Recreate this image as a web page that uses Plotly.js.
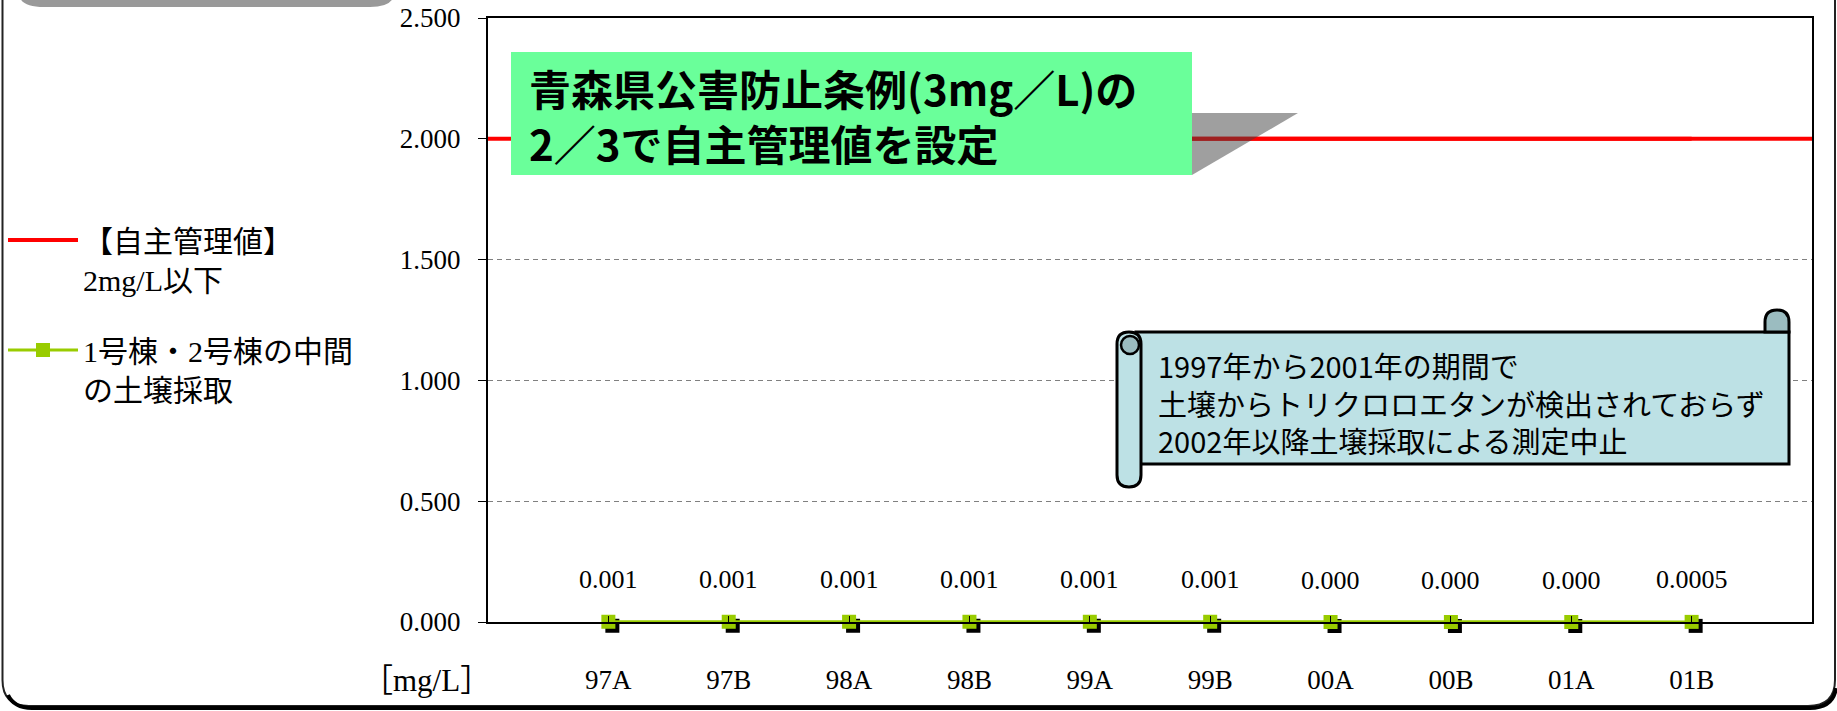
<!DOCTYPE html>
<html>
<head>
<meta charset="utf-8">
<script src="https://cdn.plot.ly/plotly-3.0.1.min.js"></script>
<style>
html,body{margin:0;padding:0;background:#fff;}
#chart{width:1837px;height:711px;}
</style>
</head>
<body>
<div id="chart"></div>
<script>
// ---- data ----
const categories = ['97A','97B','98A','98B','99A','99B','00A','00B','01A','01B'];
const soilValues = [0.001,0.001,0.001,0.001,0.001,0.001,0,0,0,0.0005];
const valueLabels = ['0.001','0.001','0.001','0.001','0.001','0.001','0.000','0.000','0.000','0.0005'];
const limitValue = 2;
const limitValues = [2,2,2,2,2,2,2,2,2,2];
const yTickValues = [0,0.5,1,1.5,2,2.5];
const limitName = '【自主管理値】<br>2mg/L以下';
const soilName = '1号棟・2号棟の中間<br>の土壌採取';
const unitLabel = '［mg/L］';
const noteLines = ['青森県公害防止条例(3mg／L)の','2／3で自主管理値を設定'];
const scrollLines = ['1997年から2001年の期間で','土壌からトリクロロエタンが検出されておらず','2002年以降土壌採取による測定中止'];

// ---- geometry (page pixels) ----
const W = 1837, H = 711;
const L = 488, R = 1812, T = 18, B = 622;
const PW = R - L, PH = B - T;
const X_RANGE = [-1, 10], Y_RANGE = [0, 2.5];
const px = x => (x - L) / PW;
const py = y => (B - y) / PH;
function pth(s){
  const t = s.trim().split(/\s+/); const out = []; let isX = true;
  for (const k of t){
    if (/^[A-Za-z]$/.test(k)){ out.push(k); isX = true; }
    else { const v = +k; out.push((isX ? px(v) : py(v)).toFixed(6)); isX = !isX; }
  }
  return out.join(' ');
}

const serif = '"Liberation Serif", "Times New Roman", "Noto Sans CJK JP", serif';
const gothic = '"Noto Sans CJK JP", "Noto Sans", sans-serif';
const green = '#99cc00';
const markerSize = 14;
const sdx = 4, sdy = 4; // shadow offset in px

const traces = [
  {
    x: categories, y: limitValues, name: limitName, type: 'scatter', mode: 'lines',
    line: {color: '#ff0000', width: 4}, legendgroup: 'a', hoverinfo: 'skip'
  },
  {
    x: categories, y: soilValues, name: soilName, type: 'scatter', mode: 'lines+markers',
    cliponaxis: false, legendgroup: 'b', hoverinfo: 'skip',
    line: {color: green, width: 3},
    marker: {symbol: 'square', size: markerSize, color: green}
  }
];

const annotations = [];
categories.forEach((c, i) => {
  annotations.push({
    x: c, y: soilValues[i], xref: 'x', yref: 'y', text: valueLabels[i],
    showarrow: false, yshift: 42, yanchor: 'middle', xanchor: 'center',
    font: {family: serif, size: 26, color: '#000'}
  });
});
annotations.push({
  xref: 'paper', yref: 'paper', x: px(426), y: py(680), text: unitLabel,
  showarrow: false, xanchor: 'center', yanchor: 'middle',
  font: {family: serif, size: 31, color: '#000'}
});
annotations.push({
  xref: 'paper', yref: 'paper', x: px(527), y: py(115), text: noteLines.join('<br>'),
  showarrow: false, xanchor: 'left', yanchor: 'middle', align: 'left',
  font: {family: gothic, size: 42, color: '#000', weight: 'bold'}
});
annotations.push({
  xref: 'paper', yref: 'paper', x: px(1156), y: py(402), text: scrollLines.join('<br>'),
  showarrow: false, xanchor: 'left', yanchor: 'middle', align: 'left',
  font: {family: gothic, size: 29, color: '#000'}
});

const scrollFill = '#bde1e5', curlFill = '#9bbcc0';
const shapes = [];
// marker shadows (anchored at each data point, offset in pixels)
soilValues.forEach((v, i) => {
  shapes.push({
    type: 'rect', xref: 'x', yref: 'paper', layer: 'below',
    xsizemode: 'pixel', ysizemode: 'pixel',
    xanchor: i, yanchor: (v - Y_RANGE[0]) / (Y_RANGE[1] - Y_RANGE[0]),
    x0: -markerSize/2 + sdx, x1: markerSize/2 + sdx,
    y0: -markerSize/2 - sdy, y1: markerSize/2 - sdy,
    fillcolor: '#000', line: {width: 0}
  });
});
shapes.push(
  // red limit line across full width
  {type: 'line', xref: 'paper', yref: 'y', x0: 0, x1: 1, y0: limitValue, y1: limitValue,
   line: {color: '#ff0000', width: 4}, layer: 'above'},
  // grey shadow of note box
  {type: 'path', xref: 'paper', yref: 'paper', path: pth('M 1192 113 L 1298 113 L 1192 175 Z'),
   fillcolor: 'rgba(64,64,64,0.5)', line: {width: 0}, layer: 'above'},
  // green note box
  {type: 'rect', xref: 'paper', yref: 'paper', x0: px(511), x1: px(1192), y0: py(175), y1: py(52),
   fillcolor: '#6aff9a', line: {width: 0}, layer: 'above'},
  // scroll body
  {type: 'rect', xref: 'paper', yref: 'paper', x0: px(1136), x1: px(1789), y0: py(464), y1: py(332),
   fillcolor: scrollFill, line: {color: '#000', width: 3}, layer: 'above'},
  // right curl
  {type: 'path', xref: 'paper', yref: 'paper',
   path: pth('M 1765 332 L 1765 322 Q 1765 310 1777 310 Q 1789 310 1789 322 L 1789 332 Z'),
   fillcolor: curlFill, line: {color: '#000', width: 3}, layer: 'above'},
  // left tube
  {type: 'path', xref: 'paper', yref: 'paper',
   path: pth('M 1117 344 Q 1117 332 1129 332 Q 1141 332 1141 344 L 1141 475 Q 1141 487 1129 487 Q 1117 487 1117 475 Z'),
   fillcolor: scrollFill, line: {color: '#000', width: 3}, layer: 'above'},
  // left curl
  {type: 'circle', xref: 'paper', yref: 'paper', x0: px(1121), x1: px(1139), y0: py(354), y1: py(336),
   fillcolor: curlFill, line: {color: '#000', width: 2.5}, layer: 'above'},
  // grey tab at top
  {type: 'path', xref: 'paper', yref: 'paper',
   path: pth('M 20 -2 Q 24 7 44 7 L 370 7 Q 389 7 393 -2 Z'),
   fillcolor: '#999999', line: {width: 0}, layer: 'above'},
  // outer frame
  {type: 'path', xref: 'paper', yref: 'paper',
   path: pth('M 2.5 -5 L 2.5 680 Q 2.5 706 29 706 L 1808 706 Q 1835 706 1835 680 L 1835 -5'),
   line: {color: '#222', width: 2}, layer: 'above'},
  // frame bottom shadow
  {type: 'path', xref: 'paper', yref: 'paper',
   path: pth('M 8 695 Q 14 708 32 708 L 1810 708 Q 1833 708 1836 688'),
   line: {color: '#000', width: 4}, layer: 'above'}
);

const layout = {
  width: W, height: H,
  margin: {l: L, r: W - R, t: T, b: H - B, pad: 0, autoexpand: false},
  paper_bgcolor: '#ffffff', plot_bgcolor: '#ffffff',
  showlegend: true,
  legend: {
    x: px(3), xanchor: 'left', y: py(214), yanchor: 'top',
    bgcolor: 'rgba(0,0,0,0)', borderwidth: 0,
    font: {family: serif, size: 30, color: '#000'},
    itemwidth: 70, valign: 'top', traceorder: 'grouped', tracegroupgap: 29
  },
  xaxis: {
    type: 'category', range: X_RANGE, fixedrange: true, automargin: false,
    showline: true, linecolor: '#000', linewidth: 2, mirror: true,
    ticks: 'inside', ticklen: 6, tickcolor: '#000', tickwidth: 1,
    showgrid: false, zeroline: false, ticklabelstandoff: 33,
    tickfont: {family: serif, size: 27, color: '#000'}
  },
  yaxis: {
    range: Y_RANGE, fixedrange: true, tickvals: yTickValues, tickformat: '.3f', automargin: false,
    showline: true, linecolor: '#000', linewidth: 2, mirror: true,
    ticks: 'outside', ticklen: 8, tickcolor: '#000', tickwidth: 1,
    showgrid: true, gridcolor: '#808080', gridwidth: 1, griddash: '5px,4px',
    zeroline: false, ticklabelstandoff: 12,
    tickfont: {family: serif, size: 27, color: '#000'}
  },
  shapes: shapes,
  annotations: annotations
};

Plotly.newPlot('chart', traces, layout, {staticPlot: true, displayModeBar: false});
</script>
</body>
</html>
